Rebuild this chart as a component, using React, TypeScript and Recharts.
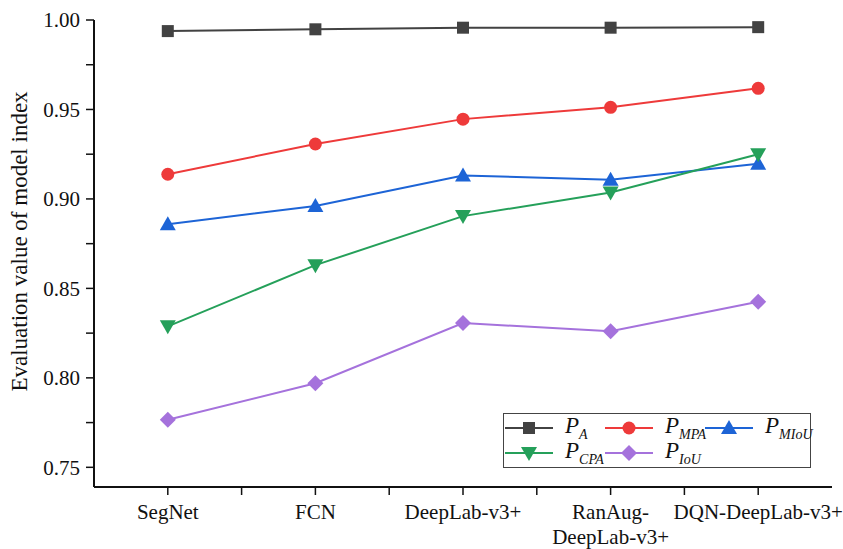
import React from 'react';
import { LineChart, Line, XAxis, YAxis } from 'recharts';

// models on the x axis (1..5)
const models = ['SegNet', 'FCN', 'DeepLab-v3+', 'RanAug-\nDeepLab-v3+', 'DQN-DeepLab-v3+'];

const pA = [0.9938, 0.9948, 0.9957, 0.9957, 0.9960];
const pMPA = [0.9138, 0.9307, 0.9446, 0.9512, 0.9618];
const pMIoU = [0.8858, 0.8961, 0.9131, 0.9107, 0.9197];
const pCPA = [0.8288, 0.8630, 0.8904, 0.9036, 0.9250];
const pIoU = [0.7766, 0.7970, 0.8306, 0.8260, 0.8425];

const yTicks = [0.75, 0.775, 0.8, 0.825, 0.85, 0.875, 0.9, 0.925, 0.95, 0.975, 1.0];
const xTicks = [1, 1.5, 2, 2.5, 3, 3.5, 4, 4.5, 5];

const data = models.map((m, i) => ({
  x: i + 1,
  pA: pA[i],
  pMPA: pMPA[i],
  pMIoU: pMIoU[i],
  pCPA: pCPA[i],
  pIoU: pIoU[i],
}));

const SERIF = '"Liberation Serif", "Times New Roman", serif';

type Shape = 'square' | 'circle' | 'triangle' | 'down' | 'diamond';

const series: { key: string; sub: string; color: string; shape: Shape }[] = [
  { key: 'pA', sub: 'A', color: '#424242', shape: 'square' },
  { key: 'pMPA', sub: 'MPA', color: '#ee3a3a', shape: 'circle' },
  { key: 'pMIoU', sub: 'MIoU', color: '#1d64d6', shape: 'triangle' },
  { key: 'pCPA', sub: 'CPA', color: '#25a05a', shape: 'down' },
  { key: 'pIoU', sub: 'IoU', color: '#a572dc', shape: 'diamond' },
];

function Marker({ cx, cy, shape, color }: { cx: number; cy: number; shape: Shape; color: string }) {
  if (cx == null || cy == null) return null;
  switch (shape) {
    case 'square':
      return <rect x={cx - 6} y={cy - 6} width={12} height={12} fill={color} />;
    case 'circle':
      return <circle cx={cx} cy={cy} r={6.5} fill={color} />;
    case 'triangle':
      return <polygon points={`${cx},${cy - 8} ${cx + 8},${cy + 6} ${cx - 8},${cy + 6}`} fill={color} />;
    case 'down':
      return <polygon points={`${cx},${cy + 8} ${cx + 8},${cy - 6} ${cx - 8},${cy - 6}`} fill={color} />;
    default:
      return <polygon points={`${cx},${cy - 8} ${cx + 8},${cy} ${cx},${cy + 8} ${cx - 8},${cy}`} fill={color} />;
  }
}

function XTick(props: any) {
  const { x, y, payload } = props;
  const v = payload.value;
  if (Math.abs(v - Math.round(v)) > 0.01) return null;
  const lines = models[Math.round(v) - 1].split('\n');
  return (
    <text x={x} y={y} textAnchor="middle" fontFamily={SERIF} fontSize={21} fill="#111">
      {lines.map((l, i) => (
        <tspan key={i} x={x} dy={i === 0 ? 20 : 25}>{l}</tspan>
      ))}
    </text>
  );
}

function LegendBox() {
  const rows = [
    [{ s: series[0], lx: 505 }, { s: series[1], lx: 605 }, { s: series[2], lx: 705 }],
    [{ s: series[3], lx: 505 }, { s: series[4], lx: 605 }],
  ];
  const rowY = [428, 453];
  return (
    <svg width={843} height={549} style={{ position: 'absolute', left: 0, top: 0, pointerEvents: 'none' }}>
      <rect x={503.5} y={413.5} width={307} height={54} fill="#fff" stroke="#444" strokeWidth={1} />
      {rows.map((row, r) =>
        row.map(({ s, lx }) => (
          <g key={s.key}>
            <line x1={lx} x2={lx + 48} y1={rowY[r]} y2={rowY[r]} stroke={s.color} strokeWidth={2} />
            <Marker cx={lx + 24} cy={rowY[r]} shape={s.shape} color={s.color} />
            <text x={lx + 60} y={rowY[r] + 5} fontFamily={SERIF} fontStyle="italic" fontSize={23} fill="#111">
              P
              <tspan fontSize={14} dy={6}>{s.sub}</tspan>
            </text>
          </g>
        ))
      )}
    </svg>
  );
}

export default function App() {
  return (
    <div style={{ position: 'absolute', left: 0, top: 0, width: 843, height: 549, background: '#fff' }}>
      <LineChart width={843} height={549} data={data} margin={{ top: 20, right: 11, bottom: 0, left: 0 }}>
        <XAxis
          dataKey="x"
          type="number"
          domain={[0.5, 5.5]}
          ticks={xTicks}
          interval={0}
          height={62}
          tickSize={8}
          tickMargin={4}
          tick={<XTick />}
          axisLine={{ stroke: '#111', strokeWidth: 2 }}
          tickLine={{ stroke: '#111', strokeWidth: 1.5 }}
        />
        <YAxis
          type="number"
          domain={[0.739, 1.0]}
          ticks={yTicks}
          interval={0}
          width={94}
          tickSize={8}
          tickMargin={6}
          allowDataOverflow
          tickFormatter={(v: number) => (Math.round(v * 1000) % 50 === 0 ? v.toFixed(2) : '')}
          tick={{ fontFamily: SERIF, fontSize: 21, fill: '#111' }}
          axisLine={{ stroke: '#111', strokeWidth: 2 }}
          tickLine={{ stroke: '#111', strokeWidth: 1.5 }}
          label={{
            value: 'Evaluation value of model index',
            angle: -90,
            position: 'insideLeft',
            style: { fontFamily: SERIF, fontSize: 23, fill: '#111', textAnchor: 'middle' },
            dx: 14,
            dy: -12,
          }}
        />
        {series.map((s) => (
          <Line
            key={s.key}
            type="linear"
            dataKey={s.key}
            stroke={s.color}
            strokeWidth={2}
            isAnimationActive={false}
            dot={(p: any) => <Marker key={`${s.key}-${p.index}`} cx={p.cx} cy={p.cy} shape={s.shape} color={s.color} />}
            activeDot={false}
          />
        ))}
      </LineChart>
      <LegendBox />
    </div>
  );
}
